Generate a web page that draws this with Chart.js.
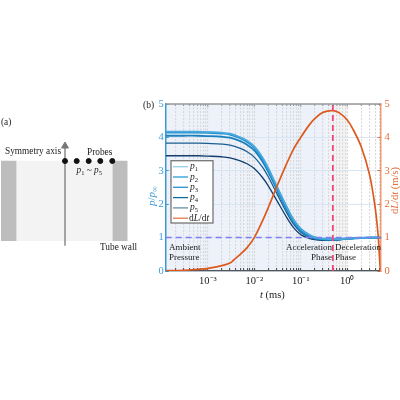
<!DOCTYPE html>
<html><head><meta charset="utf-8">
<script src="https://cdn.jsdelivr.net/npm/chart.js@4/dist/chart.umd.min.js"></script>
<style>html,body{margin:0;padding:0;background:#fff}canvas{position:absolute;top:0}
#a{left:0}#b{left:0}</style></head>
<body>
<canvas id="b" width="400" height="400"></canvas>
<canvas id="a" width="140" height="400"></canvas>
<script>
const times=[1.24e-4,3e-4,6e-4,1e-3,2e-3,3e-3,5e-3,7e-3,0.01,0.015,0.02,0.03,0.05,0.07,0.1,0.15,0.2,0.3,0.5,1,2,5.2];
const p1=[4.17,4.17,4.17,4.16,4.14,4.11,4.00,3.90,3.73,3.40,3.08,2.56,1.92,1.54,1.27,1.09,1.01,0.97,0.95,0.97,0.99,1];
const p2=[4.15,4.15,4.15,4.14,4.12,4.09,3.98,3.87,3.70,3.36,3.04,2.52,1.88,1.51,1.24,1.07,1.00,0.96,0.95,0.97,0.99,1];
const p3=[4.05,4.05,4.05,4.04,4.02,3.99,3.89,3.78,3.61,3.28,2.97,2.46,1.83,1.47,1.21,1.05,0.98,0.95,0.94,0.97,0.99,1];
const p4=[3.83,3.83,3.83,3.82,3.80,3.77,3.67,3.57,3.41,3.11,2.82,2.34,1.74,1.40,1.16,1.02,0.96,0.93,0.93,0.96,0.99,1];
const p5=[3.45,3.45,3.45,3.44,3.42,3.39,3.30,3.21,3.07,2.80,2.55,2.13,1.60,1.30,1.09,0.98,0.94,0.92,0.92,0.96,0.99,1];
const rateTimes=[1.24e-4,3e-4,6e-4,1e-3,2e-3,3e-3,3.6e-3,5e-3,7e-3,0.01,0.015,0.02,0.03,0.05,0.07,0.1,0.15,0.2,0.3,0.5,0.7,1,1.3,2,3,3.9,4.6,5,5.2];
const rate=[0.01,0.02,0.05,0.08,0.16,0.24,0.33,0.5,0.7,1.0,1.5,1.9,2.5,3.22,3.65,4.0,4.36,4.56,4.75,4.8,4.72,4.52,4.27,3.72,2.9,2.0,1.1,0.3,0];
const ambient=1, peakTime=0.49, tMin=1.24e-4, tMax=5.2;
const bands=[[tMin,0.36,'#ecf1fa'],[0.36,0.49,'#f0f2f7'],[0.49,1,'#f3f3f3']];
const yTicks=[0,1,2,3,4,5];
const seriesNames=['1','2','3','4','5'];
const curveColors=['#4aa8dc','#1f93d2','#1b7fbc','#1a5f92','#123f6e'];
const curveWidths=[1.8,2.2,1.8,1.3,1.3];
const legendColors=['#93cde9','#2a9dd8','#2b8fcf','#0f6aa0','#668ea9','#e8764a'];
const SERIF='"Liberation Serif","Times New Roman",serif';
const BLUE='#3c9ad4',ORANGE='#e26f3c',DARK='#222';

function pts(xs,ys){return xs.map((x,i)=>({x,y:ys[i]}));}
function mixed(ctx,x,y,parts,color,size){
  ctx.fillStyle=color;ctx.textBaseline='alphabetic';ctx.textAlign='left';
  for(const [t,k] of parts){
    const sub=k==='s'||k==='si';const it=k==='i'||k==='si';
    ctx.font=(it?'italic ':'')+(sub?size*0.7:size)+'px '+SERIF;
    ctx.fillText(t,x,y+(sub?size*0.22:0));
    x+=ctx.measureText(t).width;
  }
  return x;
}
const decor={id:'decor',
 beforeDraw(c){const {ctx,chartArea:a,scales:{x,y}}=c;ctx.save();
  for(const [s,e,col] of bands){ctx.fillStyle=col;ctx.fillRect(x.getPixelForValue(s),a.top,x.getPixelForValue(e)-x.getPixelForValue(s),a.bottom-a.top);}
  ctx.restore();},
 afterDraw(c){const {ctx,chartArea:a,scales:{x,y}}=c;ctx.save();
  ctx.strokeStyle='#666';ctx.lineWidth=0.6;
  x.ticks.forEach(t=>{const px=x.getPixelForValue(t.value);ctx.beginPath();ctx.moveTo(px,a.top);ctx.lineTo(px,a.top+(t.major?3:2));ctx.stroke();});
  ctx.strokeStyle='#9a9a9a';ctx.lineWidth=1.5;ctx.beginPath();ctx.moveTo(a.left,a.top);ctx.lineTo(a.right,a.top);ctx.stroke();
  const lx=171,ly=160.7,lw=42,lh=62.3;
  ctx.fillStyle='#fff';ctx.fillRect(lx,ly,lw,lh);ctx.strokeStyle='#777';ctx.lineWidth=1.3;ctx.strokeRect(lx,ly,lw,lh);
  seriesNames.forEach((n,i)=>{const yy=ly+6+i*10.3;ctx.strokeStyle=legendColors[i];ctx.lineWidth=1.3;ctx.beginPath();ctx.moveTo(173,yy);ctx.lineTo(188,yy);ctx.stroke();
    mixed(ctx,190,yy+2.5,[['p','i'],[n,'s']],DARK,9.5);});
  const yy=ly+6+5*10.3;ctx.strokeStyle=legendColors[5];ctx.lineWidth=1.3;ctx.beginPath();ctx.moveTo(173,yy);ctx.lineTo(188,yy);ctx.stroke();
  mixed(ctx,189,yy+3,[['d','n'],['L','i'],['/d','n'],['t','i']],DARK,9.5);
  ctx.font='9px '+SERIF;ctx.fillStyle=DARK;ctx.textBaseline='alphabetic';
  ctx.textAlign='left';
  ctx.fillText('Ambient',169,250);
  ctx.fillText('Pressure',169,260);
  ctx.fillText('Deceleration',335,250);
  ctx.fillText('Phase',335,260);
  ctx.textAlign='right';
  ctx.fillText('Acceleration',332,250);
  ctx.fillText('Phase',332,260);
  ctx.textAlign='left';ctx.font='9.5px '+SERIF;
  ctx.fillText('(b)',143,108);
  mixed(ctx,260,298,[['t','i'],[' (ms)','n']],DARK,10.5);
  ctx.save();ctx.translate(155,206);ctx.rotate(-Math.PI/2);mixed(ctx,0,0,[['p','i'],['/','n'],['p','i'],['∞','s']],BLUE,11);ctx.restore();
  ctx.save();ctx.translate(398,214);ctx.rotate(-Math.PI/2);mixed(ctx,0,0,[['d','n'],['L','i'],['/d','n'],['t','i'],[' (m/s)','n']],ORANGE,10.5);ctx.restore();
  ctx.restore();}
};
const pDatasets=[p1,p2,p3,p4,p5].map((d,i)=>({label:'p'+seriesNames[i],data:pts(times,d),borderColor:curveColors[i],borderWidth:curveWidths[i],pointRadius:0,tension:0.35,yAxisID:'y'}));
new Chart(document.getElementById('b'),{type:'line',
 data:{datasets:[
  {label:'ambient',data:pts([tMin,tMax],[ambient,ambient]),borderColor:'#7f7ff0',borderWidth:1.5,borderDash:[6,4],pointRadius:0,yAxisID:'y',order:0},
  {label:'peak',data:pts([peakTime,peakTime],[0,5]),borderColor:'#f0457c',borderWidth:1.8,borderDash:[6,4],pointRadius:0,yAxisID:'y',order:0},
  ...pDatasets.map(d=>({...d,order:2})),
  {label:'dL/dt',data:pts(rateTimes,rate),borderColor:'#dd5a1e',borderWidth:1.7,pointRadius:0,tension:0.35,yAxisID:'y2',order:1}
 ]},
 options:{responsive:false,animation:false,parsing:false,normalized:true,
  layout:{padding:{left:0,right:0,top:104,bottom:0},autoPadding:false},
  plugins:{legend:{display:false},tooltip:{enabled:false}},
  scales:{
   x:{type:'logarithmic',min:tMin,max:tMax,
    afterBuildTicks(s){const t=[];for(let e=-4;e<=0;e++)for(let m=1;m<=9;m++){const v=m*Math.pow(10,e);if(v>=tMin&&v<=tMax)t.push({value:v,major:m===1});}s.ticks=t;},
    afterFit(s){s.height=129;},
    grid:{color:'#d8d8d8',lineWidth:1.1,tickLength:-3,tickColor:'#555'},border:{color:'#555',width:1.2,dash:[2,1.5]},
    ticks:{autoSkip:false,maxRotation:0,padding:7,color:DARK,font:{family:SERIF,size:10.5},
     callback(v){const e=Math.log10(v);if(Math.abs(e-Math.round(e))>1e-6)return '';return '10'+({'-3':'⁻³','-2':'⁻²','-1':'⁻¹','0':'⁰'}[Math.round(e)]||'');}}},
   y:{position:'left',min:0,max:5,afterBuildTicks(s){s.ticks=yTicks.map(v=>({value:v}));},afterFit(s){s.width=165.7;},
    grid:{color:'#d7e6f2',lineWidth:1,tickLength:-3,tickColor:BLUE},border:{color:BLUE,width:1.5},
    ticks:{color:BLUE,padding:5,font:{family:SERIF,size:10.5}}},
   y2:{position:'right',min:0,max:5,afterBuildTicks(s){s.ticks=yTicks.map(v=>({value:v}));},afterFit(s){s.width=19.5;},
    grid:{drawOnChartArea:false,tickLength:-3,tickColor:ORANGE},border:{color:'#ee9a78',width:1.5},
    ticks:{color:ORANGE,padding:7,font:{family:SERIF,size:10.5}}}
  }},
 plugins:[decor]});

const leftWallX=[1,16.7],rightWallX=[112.3,127.7],coreX=[16.7,112.3],blockTop=[160.7,160.7],blockBottom=241;
const axisX=[65,65],axisY=[245.7,146];
const arrowX=[65],arrowY=[146];
const probeX=[65,76.7,88.7,100.3,112.3],probeY=[161,161,161,161,161];
const labelA={id:'labelA',afterDraw(c){const {ctx,scales:{x,y}}=c;ctx.save();
  ctx.font='9.3px '+SERIF;ctx.fillStyle=DARK;ctx.textAlign='left';ctx.textBaseline='alphabetic';
  ctx.fillText('(a)',1,125);
  ctx.fillText('Symmetry axis',x.getPixelForValue(5),y.getPixelForValue(154));
  ctx.fillText('Probes',x.getPixelForValue(87),y.getPixelForValue(155));
  ctx.fillText('Tube wall',x.getPixelForValue(100),y.getPixelForValue(250));
  mixed(ctx,76.5,173,[['p','i'],['1','s'],[' ~ ','n'],['p','i'],['5','s']],DARK,9.3);
  ctx.restore();}};
const block=(xs,col,label,order)=>({type:'line',label,data:pts(xs,blockTop),borderWidth:0,borderColor:col,backgroundColor:col,fill:{value:blockBottom},pointRadius:0,order});
new Chart(document.getElementById('a'),{type:'line',
 data:{datasets:[
  {type:'scatter',label:'probes',data:pts(probeX,probeY),backgroundColor:'#111',borderColor:'#111',pointRadius:2.5,order:0},
  {type:'scatter',label:'arrow',data:pts(arrowX,arrowY),backgroundColor:'#777',borderColor:'#777',pointStyle:'triangle',pointRadius:4,order:1},
  {type:'line',label:'axis',data:pts(axisX,axisY),borderColor:'#8a8a8a',borderWidth:1.5,pointRadius:0,order:1},
  block(leftWallX,'#bdbdbd','wall',3),block(rightWallX,'#bdbdbd','wall',3),block(coreX,'#f3f3f3','core',4)
 ]},
 options:{responsive:false,animation:false,parsing:false,layout:{padding:0,autoPadding:false},
  plugins:{legend:{display:false},tooltip:{enabled:false}},
  scales:{x:{type:'linear',min:0,max:140,display:false},y:{type:'linear',min:0,max:400,reverse:true,display:false}}},
 plugins:[labelA]});
</script>
</body></html>
